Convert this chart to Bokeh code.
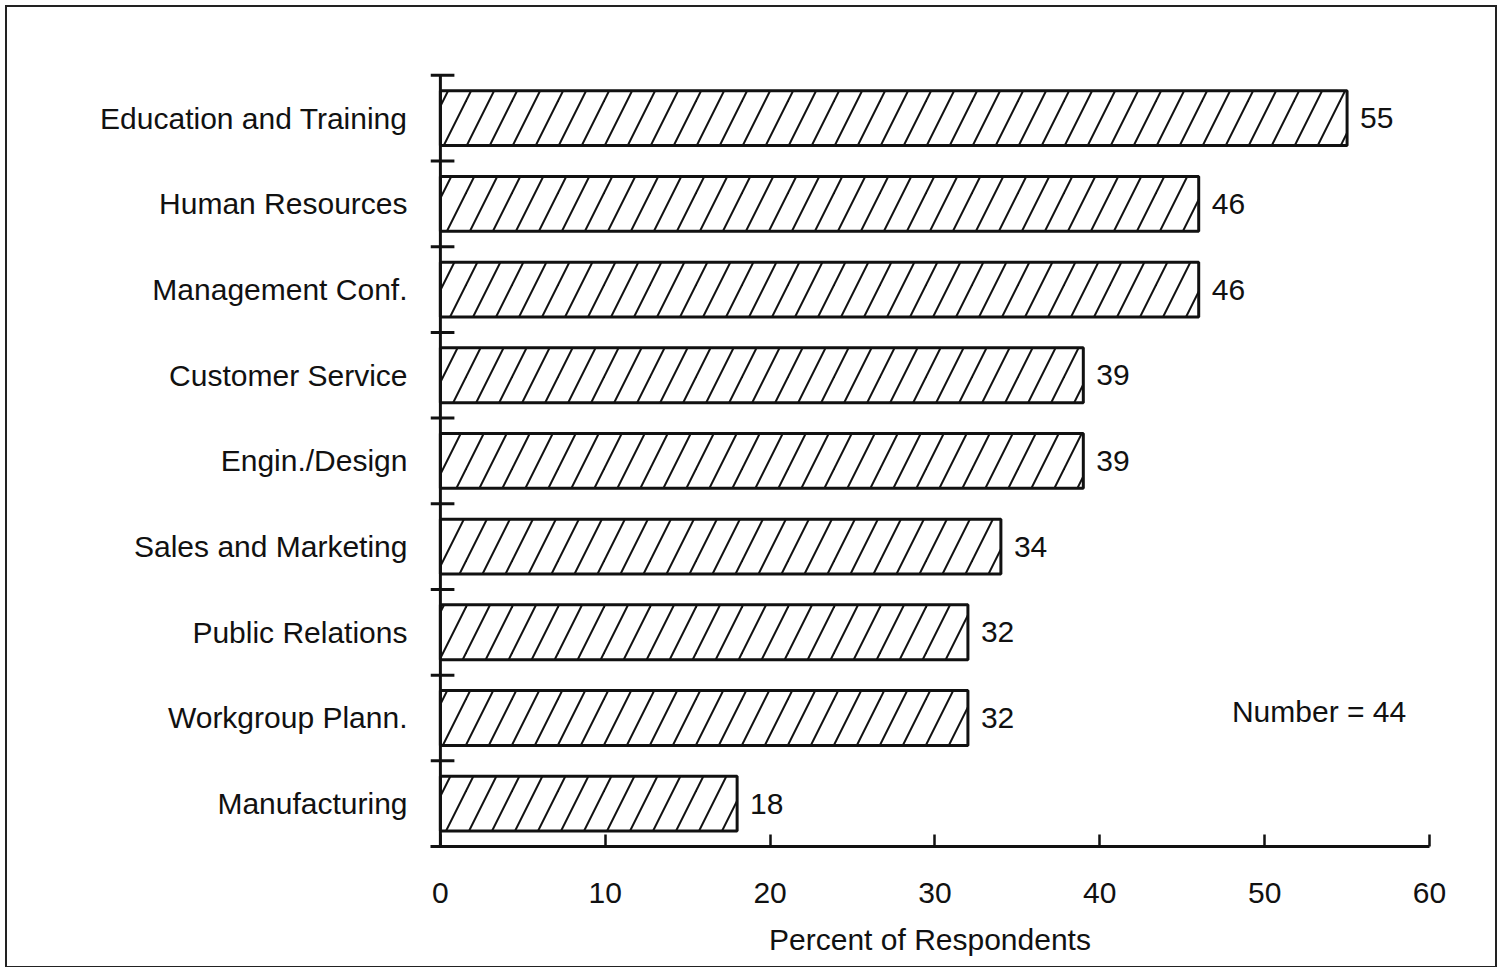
import base64
from bokeh.plotting import figure
from bokeh.models import FixedTicker, Range1d, Label, ColumnDataSource, ImageURLTexture
from bokeh.embed import file_html
from bokeh.resources import INLINE
from bokeh.core.properties import value

categories = ["Education and Training", "Human Resources", "Management Conf.",
              "Customer Service", "Engin./Design", "Sales and Marketing",
              "Public Relations", "Workgroup Plann.", "Manufacturing"]
percents = [55, 46, 46, 39, 39, 34, 32, 32, 18]
x_ticks = [0, 10, 20, 30, 40, 50, 60]
note_text = "Number = 44"
x_label = "Percent of Respondents"

FONT = "Liberation Sans"
FS = "30px"
n = len(categories)
ypos = [n - i - 0.5 for i in range(n)]

# hatch tile: steep diagonal strokes (slope 2), 23 px apart
S = 46
lines = "".join(
    f"<line x1='{a + 0.75 * S}' y1='{-0.5 * S}' x2='{a - 0.25 * S}' y2='{1.5 * S}'/>"
    for a in [-S, -S / 2, 0, S / 2, S, 1.5 * S])
tile_svg = (f"<svg xmlns='http://www.w3.org/2000/svg' width='{S}' height='{S}'>"
            f"<g stroke='#111' stroke-width='2'>{lines}</g></svg>")
tile_url = "data:image/svg+xml;base64," + base64.b64encode(tile_svg.encode()).decode()
stripe = ImageURLTexture(url=tile_url)

p = figure(width=1492, height=963, output_backend="svg", toolbar_location=None,
           x_range=Range1d(-0.6, 60), y_range=Range1d(0, 9.15),
           min_border_left=423, min_border_right=70, min_border_top=55, min_border_bottom=124)
p.styles = {"border": "2px solid #222", "margin-left": "5px", "margin-top": "5px",
            "box-sizing": "border-box"}
p.outline_line_color = None
p.grid.visible = False
p.background_fill_color = "white"
p.border_fill_color = "white"

src = ColumnDataSource(dict(y=ypos, right=percents, cat=categories, lab=[str(v) for v in percents]))
p.hbar(y="y", left=0, right="right", height=0.64, source=src, fill_color="white",
       line_color="#111", line_width=3, hatch_pattern=value("stripe"), hatch_extra={"stripe": stripe},
       hatch_color="#111", hatch_scale=S, hatch_weight=2)
p.text(x="right", y="y", text="lab", source=src, x_offset=13, text_baseline="middle",
       text_align="left", text_font=value(FONT), text_font_size=FS, text_color="#111")

# y axis line and boundary ticks
p.segment(x0=[0], y0=[0], x1=[0], y1=[n], line_color="#111", line_width=3)
bounds = list(range(1, n + 1))
p.segment(x0=[-0.6] * len(bounds), y0=bounds, x1=[0.85] * len(bounds), y1=bounds,
          line_color="#111", line_width=3)

# x axis
xa = p.xaxis[0]
xa.ticker = FixedTicker(ticks=x_ticks)
xa.axis_line_width = 3
xa.axis_line_color = "#111"
xa.major_tick_in = 12
xa.major_tick_out = 0
xa.major_tick_line_width = 2.5
xa.major_tick_line_color = "#111"
xa.minor_tick_line_color = None
xa.major_label_text_font = FONT
xa.major_label_text_font_size = FS
xa.major_label_text_color = "#111"
xa.major_label_standoff = 36
xa.axis_label = x_label
xa.axis_label_text_font = FONT
xa.axis_label_text_font_size = FS
xa.axis_label_text_font_style = "normal"
xa.axis_label_text_color = "#111"
xa.axis_label_standoff = 17

# y axis: category labels only
ya = p.yaxis[0]
ya.ticker = FixedTicker(ticks=ypos)
ya.major_label_overrides = {y: c for y, c in zip(ypos, categories)}
ya.axis_line_color = None
ya.major_tick_line_color = None
ya.major_tick_out = 0
ya.major_tick_in = 0
ya.minor_tick_line_color = None
ya.major_label_standoff = 23
ya.major_label_text_font = FONT
ya.major_label_text_font_size = FS
ya.major_label_text_color = "#111"

p.add_layout(Label(x=53.3, y=1.58, text=note_text, text_align="center", text_baseline="middle",
                   text_font=FONT, text_font_size=FS, text_color="#111"))

open("out.html", "w").write(file_html(p, INLINE))
